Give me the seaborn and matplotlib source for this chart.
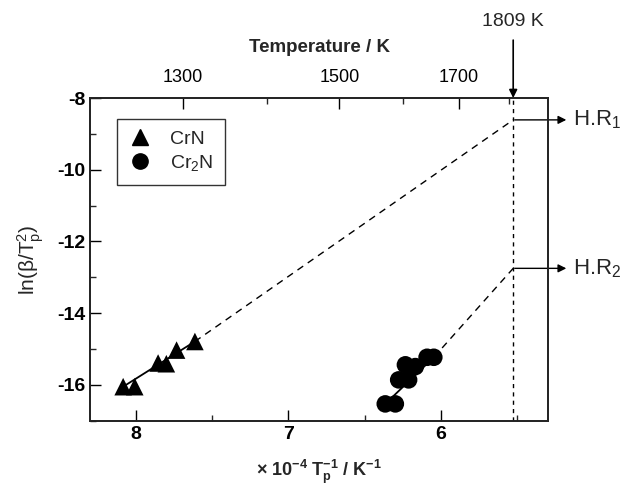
"""
Kissinger-type plot: ln(beta/Tp^2) vs 1/Tp for CrN and Cr2N
with extrapolation to the melting point of iron (1809 K)
"""

import matplotlib.pyplot as plt
import numpy as np
import seaborn as sns
import pandas as pd

# Data
crn_x = [8.083, 8.007, 7.854, 7.800, 7.733, 7.613]
crn_y = [-16.05, -16.05, -15.39, -15.41, -15.03, -14.79]
cr2n_x = [6.366, 6.300, 6.278, 6.213, 6.234, 6.169, 6.092, 6.048]
cr2n_y = [-16.53, -16.53, -15.86, -15.86, -15.44, -15.49, -15.23, -15.23]

t_melt = 1809
hr_values = [-8.61, -12.75]
hr_labels = ['H.R$_1$', 'H.R$_2$']

top_major = [1300, 1500, 1700]
top_minor = [1400, 1600, 1800]

sns.set_theme(style='ticks')
plt.rcParams['font.family'] = ['Liberation Sans', 'DejaVu Sans']
plt.rcParams['mathtext.fontset'] = 'custom'
plt.rcParams['mathtext.rm'] = 'Liberation Sans'
plt.rcParams['mathtext.it'] = 'Liberation Sans'
plt.rcParams['mathtext.bf'] = 'Liberation Sans:bold'
plt.rcParams['mathtext.default'] = 'regular'
plt.rcParams['axes.unicode_minus'] = False

df = pd.concat([
    pd.DataFrame({'x': crn_x, 'y': crn_y, 'phase': 'CrN'}),
    pd.DataFrame({'x': cr2n_x, 'y': cr2n_y, 'phase': 'Cr2N'}),
])

fig = plt.figure(figsize=(6.23, 4.95), dpi=100)
ax = fig.add_axes([0.1445, 0.150, 0.7351, 0.652])

sns.scatterplot(data=df, x='x', y='y', style='phase',
                markers={'CrN': '^', 'Cr2N': 'o'}, color='black',
                s=160, edgecolor='black', linewidth=0, legend=False, ax=ax,
                zorder=3)

x_melt = 1e4 / t_melt

# fit lines (solid) and extrapolation (dashed)
for xs, ys, hr in [(crn_x, crn_y, hr_values[0]), (cr2n_x, cr2n_y, hr_values[1])]:
    i_lo = int(np.argmax(xs))
    i_hi = int(np.argmin(xs))
    ax.plot([xs[i_lo], xs[i_hi]], [ys[i_lo], ys[i_hi]], color='black', lw=1.3)
    ax.plot([xs[i_hi], x_melt], [ys[i_hi], hr], color='black', lw=1.0,
            ls=(0, (5, 4)))

ax.axvline(x_melt, color='black', lw=1.0, ls=(0, (3, 3)))

ax.set_xlim(8.3, 5.3)
ax.set_ylim(-17, -8)
ax.set_xticks([8, 7, 6])
ax.set_xticks([7.5, 6.5, 5.5], minor=True)
ax.set_yticks([-8, -10, -12, -14, -16])
ax.set_yticks([-9, -11, -13, -15, -17], minor=True)
ax.tick_params(axis='both', which='major', direction='in', length=8,
               width=1, labelsize=14, colors='black')
ax.tick_params(axis='both', which='minor', direction='in', length=4.5, width=1)
for lbl in ax.get_xticklabels() + ax.get_yticklabels():
    lbl.set_fontweight('bold')
for sp in ax.spines.values():
    sp.set_linewidth(1.2)
    sp.set_color('black')

ax.set_xlabel('× 10$^{-4}$ T$_p^{-1}$ / K$^{-1}$', fontsize=13,
              fontweight='bold')
ax.xaxis.set_label_coords(0.5, -0.115)
ax.set_ylabel('ln(β/T$_p^2$)', fontsize=15, labelpad=8)

# top temperature axis
ax2 = ax.twiny()
ax2.set_xlim(ax.get_xlim())
ax2.set_xticks([1e4 / t for t in top_major])
ax2.set_xticklabels([str(t) for t in top_major])
ax2.set_xticks([1e4 / t for t in top_minor], minor=True)
ax2.tick_params(axis='x', which='major', direction='in', length=8, width=1,
                labelsize=13, colors='black', pad=9)
ax2.tick_params(axis='x', which='minor', direction='in', length=4.5, width=1)
ax2.set_xlabel('Temperature / K', fontsize=13.5, fontweight='bold', labelpad=12)

# annotations
ax.annotate('1809 K', xy=(x_melt, -8), xytext=(x_melt, -6.1),
            xycoords='data', textcoords='data', ha='center', va='bottom',
            fontsize=14, annotation_clip=False,
            arrowprops=dict(arrowstyle='-|>', color='black', lw=1.2,
                            mutation_scale=12, shrinkA=5, shrinkB=0))
for hr, lab in zip(hr_values, hr_labels):
    ax.annotate('', xy=(5.18, hr), xytext=(x_melt - 0.01, hr),
                annotation_clip=False,
                arrowprops=dict(arrowstyle='-|>', color='black', lw=1.0,
                                mutation_scale=12, shrinkA=0, shrinkB=0))
    ax.text(5.135, hr, lab, ha='left', va='center', fontsize=16,
            clip_on=False)

# legend
handles = [
    plt.Line2D([], [], marker='^', color='black', ls='none', markersize=11),
    plt.Line2D([], [], marker='o', color='black', ls='none', markersize=11),
]
leg = ax.legend(handles, ['CrN', 'Cr$_2$N'], loc='upper left',
                bbox_to_anchor=(0.059, 0.935), borderaxespad=0,
                fontsize=14, frameon=True, fancybox=False, handlelength=1.2,
                handletextpad=0.9, borderpad=0.6, labelspacing=0.25)
leg.get_frame().set_edgecolor('black')
leg.get_frame().set_linewidth(1.0)

plt.savefig('out.png', dpi=100)
plt.close()
